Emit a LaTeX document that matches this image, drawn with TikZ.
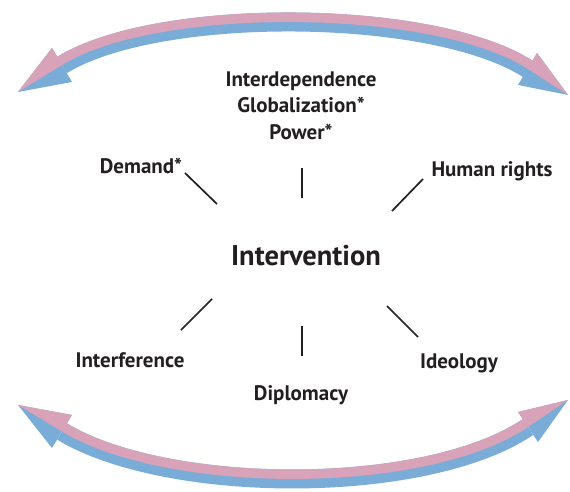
\documentclass[tikz,border=0pt]{standalone}
\usepackage{fontspec}
\setmainfont{PT Sans}
\definecolor{arrowpink}{RGB}{216,163,184}
\definecolor{arrowblue}{RGB}{122,172,216}
\definecolor{inktext}{RGB}{35,31,32}
\begin{document}
\begin{tikzpicture}[x=1pt,y=1pt,
    lbl/.style={font=\fontsize{21}{26}\selectfont\bfseries,text=inktext,anchor=base,inner sep=0pt},
    spoke/.style={draw=inktext,line width=1.7pt}]
  \useasboundingbox (0,0) rectangle (570,491);
  % top arrow
  \begin{scope}
    \draw[arrowblue,line width=19pt] (62,426) .. controls (158,485) and (433,483) .. (528,422);
    \fill[arrowblue] (18,399) -- (52,443) -- (72,409) -- cycle;
    \fill[arrowblue] (568,396) -- (537,438) -- (518,406) -- cycle;
    \clip (0,491) -- (0,399) -- (18,399) -- (62,426) .. controls (158,485) and (433,483) .. (528,422) -- (568,396) -- (570,396) -- (570,491) -- cycle;
    \draw[arrowpink,line width=19pt] (62,426) .. controls (158,485) and (433,483) .. (528,422);
    \fill[arrowpink] (18,399) -- (52,443) -- (72,409) -- cycle;
    \fill[arrowpink] (568,396) -- (537,438) -- (518,406) -- cycle;
  \end{scope}
  % bottom arrow
  \begin{scope}
    \draw[arrowblue,line width=19pt] (62,59.5) .. controls (167,-4) and (426,-5) .. (528,64);
    \fill[arrowblue] (18,86) -- (72,76) -- (52,43) -- cycle;
    \fill[arrowblue] (568,91) -- (518,79) -- (538,49) -- cycle;
    \clip (0,250) -- (0,86) -- (18,86) -- (62,59.5) .. controls (167,-4) and (426,-5) .. (528,64) -- (568,91) -- (570,91) -- (570,250) -- cycle;
    \draw[arrowpink,line width=19pt] (62,59.5) .. controls (167,-4) and (426,-5) .. (528,64);
    \fill[arrowpink] (18,86) -- (72,76) -- (52,43) -- cycle;
    \fill[arrowpink] (568,91) -- (518,79) -- (538,49) -- cycle;
  \end{scope}
  % labels
  \node[lbl,font=\fontsize{28.5}{30}\selectfont\bfseries] (interv) at (306,226) {Intervention};
  \node[lbl] (interdep) at (301,404) {Interdependence};
  \node[lbl] (global) at (301,378) {Globalization*};
  \node[lbl] (power) at (301,352) {Power*};
  \node[lbl] (demand) at (141,318) {Demand*};
  \node[lbl] (rights) at (492,315) {Human rights};
  \node[lbl] (interf) at (130,124) {Interference};
  \node[lbl] (diplo) at (301,91) {Diplomacy};
  \node[lbl] (ideo) at (459,123) {Ideology};
  % spokes
  \coordinate (d1) at (185,318); \coordinate (d2) at (217,287);
  \coordinate (p1) at (302,323); \coordinate (p2) at (302,293);
  \coordinate (h1) at (423,312); \coordinate (h2) at (392,280);
  \coordinate (f1) at (212,192); \coordinate (f2) at (181,161);
  \coordinate (m1) at (302,165); \coordinate (m2) at (302,135);
  \coordinate (o1) at (387,185); \coordinate (o2) at (418,154);
  \draw[spoke] (d1) -- (d2);
  \draw[spoke] (p1) -- (p2);
  \draw[spoke] (h1) -- (h2);
  \draw[spoke] (f1) -- (f2);
  \draw[spoke] (m1) -- (m2);
  \draw[spoke] (o1) -- (o2);
\end{tikzpicture}
\end{document}
